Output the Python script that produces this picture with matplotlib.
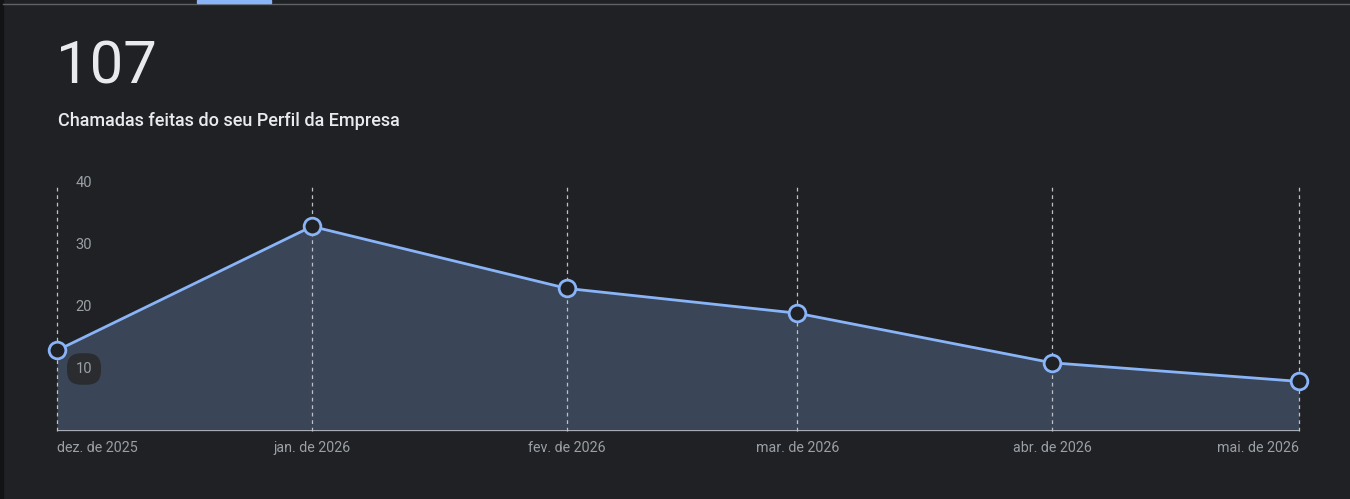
import datetime as dt
import matplotlib.pyplot as plt
import matplotlib.dates as mdates
from matplotlib.patches import Rectangle

plt.rcParams['font.family'] = ['Roboto', 'DejaVu Sans']

months = [dt.date(2025, 12, 1), dt.date(2026, 1, 1), dt.date(2026, 2, 1),
          dt.date(2026, 3, 1), dt.date(2026, 4, 1), dt.date(2026, 5, 1)]
month_labels = ['dez. de 2025', 'jan. de 2026', 'fev. de 2026',
                'mar. de 2026', 'abr. de 2026', 'mai. de 2026']
calls = [13, 33, 23, 19, 11, 8]
y_ticks = [10, 20, 30, 40]
total = '107'
subtitle = 'Chamadas feitas do seu Perfil da Empresa'

bg = '#202124'
line_color = '#8ab4f8'
fill_color = '#3a4658'
grid_color = '#bdc1c6'
tick_color = '#9aa0a6'

W, H = 1350, 499
fig = plt.figure(figsize=(W / 100, H / 100), dpi=100, facecolor=bg)

# page chrome: dark strip on the left, tab line on top
fig.patches.append(Rectangle((0, 0), 3 / W, 1, transform=fig.transFigure,
                             color='#121315', zorder=0))
fig.add_artist(plt.Line2D([3 / W, 1], [1 - 3.5 / H, 1 - 3.5 / H],
                          transform=fig.transFigure, color='#5f6368', lw=1))
fig.patches.append(Rectangle((197 / W, 1 - 3 / H), 74 / W, 3 / H,
                             transform=fig.transFigure, color=line_color, zorder=2))

# headline
fig.text(56 / W, 1 - 67 / H, total, fontsize=43, fontweight='normal',
         color='#e8eaed', va='center', ha='left')
fig.text(58 / W, 1 - 121 / H, subtitle, fontsize=13, fontweight=500,
         color='#e8eaed', va='center', ha='left')

ax = fig.add_axes([57 / W, 1 - 431 / H, (1299 - 57) / W, (431 - 183) / H])
ax.set_facecolor(bg)
x = mdates.date2num(months)
ax.set_xlim(x[0], x[-1])
ax.set_ylim(0, 40)

for xi in x:
    ax.axvline(xi, ymin=0, ymax=0.99, color=grid_color, lw=0.9,
               ls=(0, (3, 3)), zorder=2.5, clip_on=False)

ax.fill_between(x, calls, 0, color=fill_color, zorder=2, lw=0)
ax.plot(x, calls, color=line_color, lw=2, zorder=3, clip_on=False)
ax.plot(x, calls, 'o', ms=12, mfc=bg, mec=line_color, mew=2,
        zorder=4, clip_on=False)

ax.axhline(0, color=grid_color, lw=1.2, zorder=3)

for sp in ax.spines.values():
    sp.set_visible(False)
ax.set_xticks([])
ax.set_yticks([])

# y tick labels drawn inside the plot
for v in y_ticks:
    kw = dict(fontsize=10.5, color=tick_color, va='center', ha='left', zorder=5)
    if v == 10:
        kw['bbox'] = dict(boxstyle='round,pad=0.6,rounding_size=0.95',
                          fc='#2b2c2f', ec='none')
    ax.annotate(str(v), (x[0], v), xytext=(13.5, 0), textcoords='offset points',
                **kw)

# month labels under the axis
for i, (xi, lab) in enumerate(zip(x, month_labels)):
    ha = 'left' if i == 0 else ('right' if i == len(x) - 1 else 'center')
    ax.annotate(lab, (xi, 0), xytext=(0, -12), textcoords='offset points',
                fontsize=10.3, color=tick_color, ha=ha, va='center')

fig.savefig('out.png', dpi=100, facecolor=bg)
